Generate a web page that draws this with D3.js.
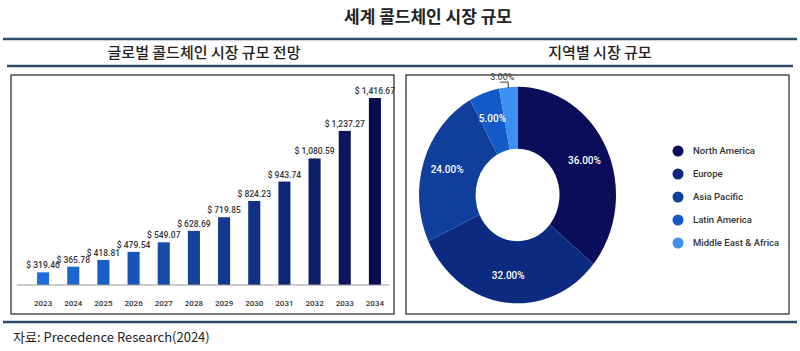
<!DOCTYPE html>
<html>
<head>
<meta charset="utf-8">
<script src="https://cdn.jsdelivr.net/npm/d3@7"></script>
<style>
  body { margin: 0; background: #fff; }
  svg { display: block; font-family: "Noto Sans CJK KR", "Noto Sans", sans-serif; }
</style>
</head>
<body>
<div id="chart"></div>
<script>
// data
const years = ["2023", "2024", "2025", "2026", "2027", "2028", "2029", "2030", "2031", "2032", "2033", "2034"]
const marketSize = [319.46, 365.78, 418.81, 479.54, 549.07, 628.69, 719.85, 824.23, 943.74, 1080.59, 1237.27, 1416.67]
const regions = ["North America", "Europe", "Asia Pacific", "Latin America", "Middle East & Africa"]
const regionShare = [36, 32, 24, 5, 3]

const width = 800, height = 351
const lineColor = "#2d4b6b"

const svg = d3.select("#chart").append("svg")
    .attr("width", width)
    .attr("height", height)

// titles + rules
svg.append("text")
    .attr("x", 428).attr("y", 23)
    .attr("text-anchor", "middle")
    .attr("font-size", 17).attr("font-weight", "bold")
    .attr("fill", "#222")
    .text("세계 콜드체인 시장 규모")

svg.append("line").attr("x1", 3).attr("x2", 797).attr("y1", 39).attr("y2", 39)
    .attr("stroke", lineColor).attr("stroke-width", 2.5)
svg.append("line").attr("x1", 7).attr("x2", 793).attr("y1", 66).attr("y2", 66)
    .attr("stroke", lineColor).attr("stroke-width", 2.5)
svg.append("line").attr("x1", 3).attr("x2", 797).attr("y1", 322).attr("y2", 322)
    .attr("stroke", lineColor).attr("stroke-width", 2.5)

svg.append("text")
    .attr("x", 204).attr("y", 58)
    .attr("text-anchor", "middle")
    .attr("font-size", 15).attr("font-weight", 500).attr("fill", "#222")
    .text("글로벌 콜드체인 시장 규모 전망")

svg.append("text")
    .attr("x", 600).attr("y", 58)
    .attr("text-anchor", "middle")
    .attr("font-size", 15).attr("font-weight", 500).attr("fill", "#222")
    .text("지역별 시장 규모")

svg.append("text")
    .attr("x", 13).attr("y", 342)
    .attr("font-size", 13).attr("fill", "#222")
    .text("자료: Precedence Research(2024)")

// panel boxes
svg.append("rect").attr("x", 11).attr("y", 75).attr("width", 383).attr("height", 239)
    .attr("fill", "#fff").attr("stroke", "#333").attr("stroke-width", 1.3)
svg.append("rect").attr("x", 406).attr("y", 75).attr("width", 383).attr("height", 239)
    .attr("fill", "#fff").attr("stroke", "#333").attr("stroke-width", 1.3)

// ---- bar chart ----
const baseY = 285

const x = d3.scaleBand()
    .domain(years)
    .range([28, 390])
    .paddingInner(0.6)
    .paddingOuter(0.3)

// the source chart is not drawn on a plain linear axis, a pow scale follows it better
const y = d3.scalePow()
    .exponent(1.3)
    .domain([207, d3.max(marketSize)])
    .range([baseY, 98])

const barColor = d3.scaleLinear()
    .domain([0, years.length - 1])
    .range(["#1d6fdc", "#0a0c50"])

const fmt = d3.format(",.2f")

const bars = svg.append("g")

bars.selectAll("rect")
    .data(marketSize)
    .join("rect")
    .attr("x", (d, i) => x(years[i]))
    .attr("y", d => y(d))
    .attr("width", x.bandwidth())
    .attr("height", d => baseY - y(d))
    .attr("fill", (d, i) => barColor(i))

bars.selectAll("text.val")
    .data(marketSize)
    .join("text")
    .attr("class", "val")
    .attr("x", (d, i) => x(years[i]) + x.bandwidth() / 2)
    .attr("y", d => y(d) - 4)
    .attr("text-anchor", "middle")
    .attr("font-family", "Roboto, sans-serif")
    .attr("font-size", 8.5)
    .attr("font-weight", 500)
    .attr("fill", "#333")
    .text(d => "$ " + fmt(d))

svg.append("line")
    .attr("x1", 17).attr("x2", 389).attr("y1", baseY).attr("y2", baseY)
    .attr("stroke", "#999").attr("stroke-width", 1)

bars.selectAll("text.year")
    .data(years)
    .join("text")
    .attr("class", "year")
    .attr("x", d => x(d) + x.bandwidth() / 2)
    .attr("y", 306)
    .attr("text-anchor", "middle")
    .attr("font-family", "Roboto, sans-serif")
    .attr("font-size", 8)
    .attr("font-weight", 500)
    .attr("fill", "#333")
    .text(d => d)

// ---- donut ----
const cx = 517.5, cy = 195, sy = 1.1
const outerR = 98.5, innerR = 42

const pieColor = d3.scaleOrdinal()
    .domain(regions)
    .range(["#0a0d5a", "#0c2a80", "#103e9c", "#1459c8", "#3c90f2"])

const pie = d3.pie().sort(null).value(d => d)
const arcs = pie(regionShare)

const arc = d3.arc().innerRadius(innerR).outerRadius(outerR)
const labelArc = d3.arc().innerRadius(74).outerRadius(74)

svg.append("g")
    .attr("transform", `translate(${cx},${cy}) scale(1,${sy})`)
    .selectAll("path")
    .data(arcs)
    .join("path")
    .attr("d", arc)
    .attr("fill", (d, i) => pieColor(regions[i]))

const pct = d3.format(".2f")

// labels inside the ring (all but the smallest slice)
svg.append("g")
    .selectAll("text")
    .data(arcs.filter(d => d.value >= 5))
    .join("text")
    .attr("x", d => cx + labelArc.centroid(d)[0])
    .attr("y", d => cy + labelArc.centroid(d)[1] * sy)
    .attr("dy", "0.35em")
    .attr("text-anchor", "middle")
    .attr("font-family", "Roboto, sans-serif")
    .attr("font-size", 10)
    .attr("font-weight", 500)
    .attr("fill", "#fff")
    .text(d => pct(d.value) + "%")

// smallest slice gets an outside label with a leader
const small = arcs[arcs.length - 1]
const edge = d3.arc().innerRadius(outerR).outerRadius(outerR).centroid(small)
const ex = cx + edge[0], ey = cy + edge[1] * sy
svg.append("path")
    .attr("d", `M${ex},${ey + 1}V${ey - 5}H${ex - 8}`)
    .attr("fill", "none")
    .attr("stroke", "#333")
    .attr("stroke-width", 1)
svg.append("text")
    .attr("x", ex - 6)
    .attr("y", ey - 7)
    .attr("text-anchor", "middle")
    .attr("font-family", "Roboto, sans-serif")
    .attr("font-size", 9)
    .attr("fill", "#333")
    .text(pct(small.value) + "%")

// legend
const legend = svg.append("g")
    .selectAll("g")
    .data(regions)
    .join("g")
    .attr("transform", (d, i) => `translate(678,${151 + i * 23})`)

legend.append("circle")
    .attr("r", 5.5)
    .attr("fill", d => pieColor(d))

legend.append("text")
    .attr("x", 15)
    .attr("dy", "0.35em")
    .attr("font-family", "Roboto, sans-serif")
    .attr("font-size", 9.5)
    .attr("font-weight", 500)
    .attr("fill", "#333")
    .text(d => d)
</script>
</body>
</html>
